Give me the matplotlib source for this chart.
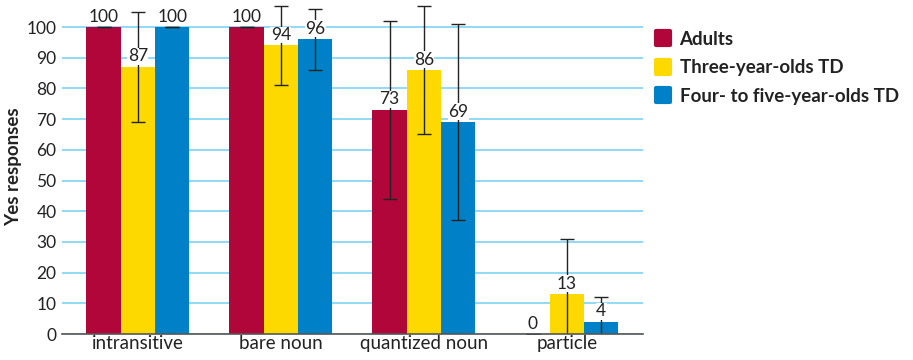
import numpy as np
import matplotlib.pyplot as plt
from matplotlib.lines import Line2D
from matplotlib.markers import MarkerStyle

plt.rcParams['font.family'] = ['Lato', 'DejaVu Sans']

categories = ['intransitive', 'bare noun', 'quantized noun', 'particle']
groups = ['Adults', 'Three-year-olds TD', 'Four- to five-year-olds TD']
values = {
    'Adults': [100, 100, 73, 0],
    'Three-year-olds TD': [87, 94, 86, 13],
    'Four- to five-year-olds TD': [100, 96, 69, 4],
}
errors = {
    'Adults': [0, 0, 29, 0],
    'Three-year-olds TD': [18, 13, 21, 18],
    'Four- to five-year-olds TD': [0, 10, 32, 8],
}
colors = ['#b0063a', '#fdd900', '#0080c6']

fig = plt.figure(figsize=(9.13, 3.6), dpi=100)
ax = fig.add_axes([0.068, 0.072, 0.636, 0.928])

x = np.arange(len(categories))
w = 0.24
for i, g in enumerate(groups):
    pos = x + (i - 1) * w
    ax.bar(pos, values[g], width=w, color=colors[i], zorder=2)
    ax.errorbar(pos, values[g], yerr=errors[g], fmt='none', ecolor='#222222',
                elinewidth=1, capsize=5, capthick=1, zorder=3)
    for p, v in zip(pos, values[g]):
        ax.text(p, v + 0.8, str(v), ha='center', va='bottom', fontsize=12.5,
                color='#222222', zorder=4,
                bbox=dict(boxstyle='square,pad=0.02', fc='white', ec='none'))

ax.set_xlim(-0.53, 3.53)
ax.set_ylim(0, 108.8)
ax.set_yticks(range(0, 101, 10))
ax.set_xticks(x)
ax.set_xticklabels(categories, fontsize=13.5)
ax.tick_params(axis='x', length=0, pad=1, colors='#222222')
ax.tick_params(axis='y', length=0, pad=4, labelsize=12.5, colors='#222222')
ax.grid(axis='y', color='#7fd3f5', linewidth=1.2, zorder=0)
ax.set_axisbelow(True)
for s in ['top', 'right', 'left']:
    ax.spines[s].set_visible(False)
ax.spines['bottom'].set_color('#555555')
ax.spines['bottom'].set_linewidth(1.2)
ax.spines['bottom'].set_zorder(5)
ax.set_ylabel('Yes responses', fontsize=13.5, fontweight='bold', color='#222222', labelpad=3)

rounded = MarkerStyle('s', joinstyle='round')
handles = [Line2D([0], [0], marker=rounded, linestyle='none', markersize=10,
                  markeredgewidth=3, markerfacecolor=c, markeredgecolor=c) for c in colors]
leg = fig.legend(handles, groups, loc='upper left', bbox_to_anchor=(0.695, 0.962),
                 frameon=False, handlelength=1.2, handletextpad=0.3, labelspacing=0.62,
                 prop={'weight': 'bold', 'size': 13.5})
for t in leg.get_texts():
    t.set_color('#222222')

fig.savefig('out.png', dpi=100)
